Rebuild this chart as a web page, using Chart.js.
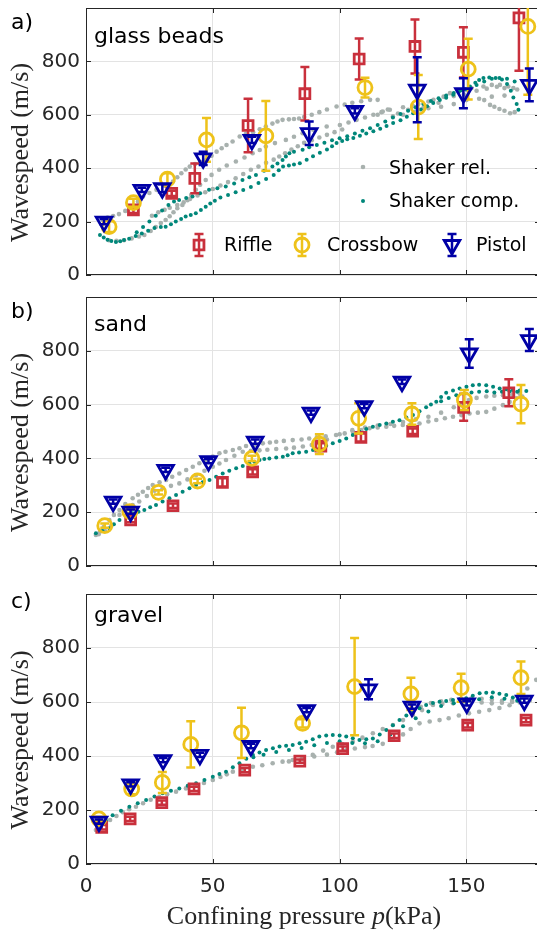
<!DOCTYPE html>
<html>
<head>
<meta charset="utf-8">
<script src="https://cdn.jsdelivr.net/npm/chart.js@4.4.1/dist/chart.umd.min.js"></script>
<style>
  html, body { margin: 0; padding: 0; background: #fff; overflow: hidden; width: 537px; height: 932px; }
  canvas { position: absolute; left: 0; }
</style>
</head>
<body>
<canvas id="panelA" width="541" height="285" style="top:0px"></canvas>
<canvas id="panelB" width="541" height="290" style="top:285px"></canvas>
<canvas id="panelC" width="541" height="352" style="top:580px"></canvas>
<script>
// axis ticks shared by all three panels
const xTicks = [0, 50, 100, 150];
const yTicks = [0, 200, 400, 600, 800];

// ---- a) glass beads ----
const riffleA_x = [18.7, 33.8, 42.9, 63.9, 86.3, 107.7, 129.7, 148.8, 170.7];
const riffleA_y = [244, 306, 362, 560, 679, 809, 856, 834, 963];
const riffleA_err = [12, 10, 56, 100, 100, 77, 101, 94, 198];
const crossA_x = [9.1, 18.7, 32.1, 47.5, 70.9, 110, 131, 150.7, 174.2];
const crossA_y = [181, 271, 359, 506, 521, 702, 629, 771, 931];
const crossA_err = [20, 15, 22, 82, 131, 37, 120, 114, 256];
const pistolA_x = [7.1, 22, 30.1, 46.2, 65.4, 88, 106, 130.6, 148.8, 174.8];
const pistolA_y = [200, 319, 325, 437, 506, 531, 615, 694, 681, 712];
const pistolA_err = [10, 8, 15, 25, 12, 44, 10, 122, 56, 61];
const shakerRelA = [
  [6.6,206],[8.5,215],[10.7,221],[13,228],[15.5,240],[18,256],[20.5,275],[22.5,294],[25,307],[27.8,319],
  [31,334],[34.3,350],[36,366],[37.6,381],[39.3,395],[40.9,406],[43,416],[45,424],[47.5,431],[49.5,447],
  [51.5,462],[53.5,475],[55.4,487],[57.8,500],[60.6,519],[63,528],[65.9,535],[68.5,546],[70.9,556],[73.5,567],
  [75.5,575],[77.5,581],[80,583],[82,584],[84,586],[86,592],[89,600],[92,610],[95,620],[98.8,631],
  [102,638],[105,645],[108.5,651],[112,656],[115,656],
  [9,130],[12,128],[15,130],[18,137],[20.9,144],[23,150],[25.5,165],[27.5,180],[29.5,195],[31.4,206],
  [33,220],[34.5,235],[36,250],[38,262],[40,280],[41.5,300],[43.3,319],[45,338],[47.2,356],[49.5,375],
  [52.5,394],[55.5,410],[59.1,425],[62.5,440],[65.7,456],[68.5,468],[70.9,481],[74.5,494],[78.8,506],[82,518],
  [85.4,531],[89.6,544],[94.9,556],[100.1,562],[103.5,571],[106.7,581],[110,590],[113.3,600],[116.5,610],[119.8,619],
  [26,222],[28.5,235],[31,244],[33,252],[36,262],[38.5,272],[41,285],[44,298],[47,310],[50,322],
  [53,335],[56,348],[59,362],[62,378],[65,394],[68,406],[71,420],[74,432],[76.2,444],[78.5,456],
  [81,470],[83.5,482],[86,495],[89,505],[92,515],[95,525],[98,535],[101,545],
  [115,600],[117,612],[119,620],[121,594],[123,605],[125,628],[127,619],[129,632],[131,640],[133,625],
  [135,650],[137,656],[139,645],[141,668],[143.5,681],[145,670],[147,688],[149,676],[150,694],[152,700],
  [154,690],[156.7,706],[158,698],[160,712],[162,705],[163.2,712],[165,700],[166.5,706],[168.5,700],[170,695],
  [157,655],[159.3,637],[161,630],[163,622],[165,615],[167.2,606],[169,610],
  [125,600],[130,612],[135,625],[140,630],[145,640],[150,655],[155,660],[160,668],[165,672]
];
const shakerCompA = [
  [5.5,150],[7,140],[8.5,132],[10,127],[11.8,124],[13.5,126],[15,131],[17,136],[19.6,146],[22,155],
  [24.5,166],[27,176],[29.5,180],[31.4,181],[33.5,190],[35.4,200],[37.5,210],[39.3,219],[41.3,225],[43.3,231],
  [45.3,243],[47.2,256],[49,268],[50.8,278],[53,290],[56,300],[59,310],[62,318],[65,330],[68,345],
  [71,360],[74,375],[76,392],[77.7,406],[80,410],[82,414],[84.3,419],[87,432],[89.5,445],[92.2,458],
  [95,470],[97,482],[98.8,494],[101,502],[103,508],[105.4,513],[108,522],[110.5,530],[113.3,538],[116,548],
  [118.5,558],[121.1,569],[124,580],[126.5,593],[129,606],[132,620],[134.5,632],[136.9,644],[139.5,655],[142,664],
  [144.8,675],[147,686],[149.5,696],[151.4,706],[153.5,720],[155,730],[156.7,738],[159,740],[161.5,738],[164,732],
  [166,715],[167.5,690],[168.5,665],[169.8,640],[170.5,619],
  [20,160],[22.5,180],[25,200],[27.5,222],[30,242],[32.5,262],[34.7,275],[36.7,281],[39.5,288],[42,294],
  [45,306],[48.5,319],[51.8,325],[55.1,331],[58.4,343],[61.7,356],[64.4,366],[67,375],[70.2,390],[73.5,406],
  [75.5,418],[77.5,431],[78.8,444],[80.2,456],[82,462],[85.4,469],[88,478],[91,487],[94,495],[97,505],
  [100,512],[103,520],[106,530],[109,540],[112,550],[115,562],[118,575],[121,590],[124,603],[127,615],
  [130,628],[133,640],[136,652],[139,662],[142,672],[145,682],[148,692],[151,700],[154,712],[157,725],
  [160,735],[163,738],[166,735],[169,725]
];

// ---- b) sand ----
const riffleB_x = [17.6, 34.3, 53.8, 65.7, 92.6, 108.4, 128.8, 148.9, 166.7];
const riffleB_y = [171, 224, 311, 350, 446, 478, 501, 590, 644];
const riffleB_err = [8, 8, 15, 10, 10, 15, 10, 50, 50];
const crossB_x = [7.4, 17.3, 28.6, 44, 65.4, 92, 107.5, 128.5, 149.2, 171.5];
const crossB_y = [150, 202, 274, 316, 400, 453, 549, 565, 617, 602];
const crossB_err = [8, 8, 8, 8, 10, 37, 56, 40, 37, 71];
const pistolB_x = [10.7, 17.6, 31.4, 48.3, 66.7, 88.7, 109.7, 124.6, 151.1, 174.8];
const pistolB_y = [239, 202, 357, 390, 462, 570, 594, 685, 790, 840];
const pistolB_err = [8, 8, 8, 8, 8, 8, 8, 8, 53, 41];
const shakerRelB = [
  [3.9,115],[5.5,128],[7,145],[9.2,171],[11,190],[13.2,208],[15.5,230],[18.4,252],[20.5,265],[22.4,276],
  [24.5,290],[26.3,301],[29,311],[31.6,320],[34,332],[36.8,344],[39.5,357],[42.1,369],[44.7,382],[47.3,394],
  [50,407],[52.6,419],[55,425],[57.9,431],[60.5,438],[63.1,446],[66.5,451],[69.7,456],[72.5,459],[75,462],
  [78,465],[81.5,468],[85,470],[88,474],[91,478],[94.5,482],
  [5,118],[7.5,130],[10,150],[13.2,190],[15.8,208],[18.4,227],[21,240],[24,260],[27,280],[30.2,289],
  [33.5,298],[36.8,307],[40,322],[43.4,338],[46.7,354],[50,369],[52.6,381],[55.2,394],[58.5,410],[61.8,425],
  [65,428],[68.4,430],[71.5,432],[75,435],[78.9,437],[82,440],[85.5,444],[89,450],[92,458],[95,470],
  [98.6,487],[102,493],[105.2,499],[108.5,505],[111.8,512],[115,515],[118.4,518],[121.5,521],[124.9,524],[128,527],
  [131.5,530],[135,537],[138.1,543],[141.5,549],[144.7,555],[148,561],[151.2,567],[154.5,570],[157.8,573],[161,585],
  [164.4,598],[167,610],[169.6,623],[172,630],
  [100,490],[105,505],[110,515],[115,522],[120,528],[125,535],[130,545],[135,555],[140,570],[145,590],
  [148,605],[151,617],[154,625],[157.8,630],[161,633],[164.4,635],[168,638],[171,640]
];
const shakerCompB = [
  [3.9,122],[6.5,130],[9.2,140],[11,155],[13.2,171],[15.8,185],[18.4,196],[20.7,202],[23,208],[25.3,218],
  [27.6,227],[30.2,240],[32.9,252],[35.5,264],[38.1,276],[40.8,289],[43.4,301],[46,311],[48.7,320],[51.3,332],
  [53.9,344],[56.5,354],[59.2,363],[61.8,372],[64.4,382],[66.4,388],[68.4,394],[70.3,398],[72.3,400],[75,403],
  [77.6,406],[79.5,412],[81.5,419],[84,422],[86.8,425],[89.5,431],[92.1,437],[94.7,447],[97.3,456],[100,465],
  [102.6,474],[105.2,487],[107.8,499],[110.5,509],[113.1,518],[115.8,524],[118.4,530],[121,536],[123.6,542],[126.3,552],
  [128.9,561],[131.5,575],[134.1,590],[136,600],[138.1,611],[140,628],[142,644],[144.7,652],[147.3,660],[150,666],
  [152.5,672],[155,674],[157.8,672],[160.5,666],[163.1,660],[165.7,657],[168.3,654],[171,652],[173.6,651],
  [140,612],[143,625],[146,635],[149,640],[152,645],[155,648],[158,650],[161,645],[164,648],[167,650],[170,648]
];

// ---- c) gravel ----
const riffleC_x = [6.2, 17.4, 29.9, 42.6, 62.6, 84.3, 101.2, 121.5, 150.5, 173.5];
const riffleC_y = [136, 167, 227, 278, 348, 381, 427, 475, 514, 533];
const riffleC_err = [8, 8, 8, 8, 8, 6, 8, 8, 8, 8];
const crossC_x = [5.1, 18, 30.1, 41.3, 61.3, 85.4, 105.9, 128.1, 147.9, 171.5];
const crossC_y = [167, 278, 302, 443, 486, 521, 657, 630, 653, 690];
const crossC_err = [8, 20, 39, 86, 93, 15, 180, 60, 52, 60];
const pistolC_x = [5.1, 17.6, 30.4, 44.9, 65, 87, 111.4, 128.5, 150.1, 172.8];
const pistolC_y = [157, 295, 385, 404, 437, 570, 647, 583, 595, 605];
const pistolC_err = [8, 8, 8, 8, 8, 8, 37, 8, 8, 8];
const shakerRelC = [
  [3.9,126],[5.5,135],[7.5,150],[9.5,163],[12,178],[14.5,192],[17,203],[19.7,212],[22.5,225],[25.5,238],
  [28.9,249],[32,258],[35.5,268],[39.4,280],[43,290],[46.5,300],[50,311],[53,322],[55.5,332],[57.9,342],
  [61.5,351],[65.8,360],[69.5,366],[73.6,373],[77.5,379],[81.5,385],[85.5,394],[89.4,404],[93.5,420],[97.3,434],
  [101,444],[105.2,453],[109,468],[113.1,484],[117,500],[121,515],[125,533],[128.9,552],[132.5,570],[136.8,589],
  [140.5,593],[144.7,595],[148.5,598],[152,600],[156,598],[160,595],[164,597],[168,605],[171,625],[174,650],[177.5,682],
  [80,380],[85,388],[90,398],[95,405],[99,414],[102.6,422],[106,428],[110,433],[113,437],[117,445],
  [121,460],[125,480],[128,500],[131.5,521],[135.5,528],[139.4,533],[143,540],[147,550],[151,558],[155,564],
  [159,570],[163,578],[167,588],[171,598],[175,606],
  [128,570],[132,582],[136,596],[140,603],[144,608],[148,612],[152,614],[156,612],[160,608],[164,604],[168,600]
];
const shakerCompC = [
  [5.3,144],[7.8,162],[10.5,181],[13.8,197],[17.1,212],[20.4,225],[23.7,237],[27,250],[30.2,262],[33.5,271],
  [36.8,280],[40.1,290],[43.4,299],[46.7,311],[50,323],[52.6,333],[55.2,342],[57.9,358],[60.5,373],[63.2,390],
  [65.8,404],[68.4,413],[71,422],[73.7,429],[76.3,435],[78.9,438],[81.5,441],[84.2,447],[86.8,453],[89.4,462],
  [92,472],[94.7,476],[97.3,478],[100,476],[102.6,472],[105.2,466],[107.8,459],[110.5,462],[113.1,465],[115.8,480],
  [118.4,496],[121,514],[123.6,533],[126.3,550],[128.9,564],[131.5,577],[134.1,589],[136.8,596],[139.4,601],[142,604],
  [144.7,607],[147.3,610],[149.9,614],[152.5,623],[155.2,632],[157.8,634],[160.4,635],[163,631],[165.7,626],[168.3,617],[170.9,607],
  [66,395],[70,405],[75,415],[80,422],[85,430],[90,440],[95,448],[100,455],[105,448],[110,447],
  [115,455],[120,480],[125,510],[130,540],[135,565],[140,585],[145,595],[150,600],[155,610],[160,618],[165,612],[170,605]
];

const axisColour = '#262626';
const gridColour = '#e3e3e3';
const sansFont = "'DejaVu Sans', sans-serif";
const serifFont = "'Liberation Serif', serif";
const markerWidth = 2.8;
const colours = {
  riffle: '#c9303c',
  crossbow: '#eec21a',
  pistol: '#0000a6',
  rel: '#a8b1ae',
  comp: '#00877a',
};

function pts(xs, ys) { return xs.map((x, i) => ({x: x, y: ys[i]})); }
function pairs(arr) { return arr.map(p => ({x: p[0], y: p[1]})); }

// hollow marker glyphs, same sizes as the plotted points
function drawMarker(ctx, kind, cx, cy) {
  ctx.save();
  ctx.lineWidth = markerWidth;
  ctx.strokeStyle = colours[kind];
  ctx.beginPath();
  if (kind === 'riffle') {
    const s = 7 * Math.SQRT1_2;
    ctx.rect(cx - s, cy - s, 2 * s, 2 * s);
  } else if (kind === 'crossbow') {
    ctx.arc(cx, cy, 7, 0, Math.PI * 2);
  } else {
    const r = 9;
    ctx.moveTo(cx, cy + r);
    ctx.lineTo(cx - r * Math.sin(Math.PI / 3), cy - r / 2);
    ctx.lineTo(cx + r * Math.sin(Math.PI / 3), cy - r / 2);
    ctx.closePath();
  }
  ctx.stroke();
  ctx.restore();
}

function drawBar(ctx, colour, px, lo, hi) {
  ctx.save();
  ctx.strokeStyle = colour;
  ctx.lineWidth = 2.5;
  ctx.beginPath();
  ctx.moveTo(px, lo); ctx.lineTo(px, hi);
  ctx.moveTo(px - 4.5, lo); ctx.lineTo(px + 4.5, lo);
  ctx.moveTo(px - 4.5, hi); ctx.lineTo(px + 4.5, hi);
  ctx.stroke();
  ctx.restore();
}

// keep tick labels from pushing the plot area in
function noPadding(s) {
  s.paddingTop = 0; s.paddingBottom = 0; s.paddingLeft = 0; s.paddingRight = 0;
}

// box round the axes plus the inward tick marks
const framePlugin = {
  id: 'frame',
  beforeDatasetsDraw(chart) {
    const {ctx, chartArea: a, scales: {x, y}} = chart;
    ctx.save();
    ctx.strokeStyle = axisColour;
    ctx.lineWidth = 1;
    ctx.strokeRect(a.left + 0.5, a.top + 0.5, a.right - a.left - 1, a.bottom - a.top - 1);
    ctx.beginPath();
    for (const v of xTicks) {
      const px = Math.round(x.getPixelForValue(v)) + 0.5;
      ctx.moveTo(px, a.bottom); ctx.lineTo(px, a.bottom - 5);
      ctx.moveTo(px, a.top); ctx.lineTo(px, a.top + 5);
    }
    for (const v of yTicks) {
      const py = Math.round(y.getPixelForValue(v)) + 0.5;
      ctx.moveTo(a.left, py); ctx.lineTo(a.left + 5, py);
      ctx.moveTo(a.right, py); ctx.lineTo(a.right - 5, py);
    }
    ctx.stroke();
    ctx.restore();
  }
};

const errorBarPlugin = {
  id: 'errorBars',
  afterDatasetDraw(chart, args) {
    const ds = chart.data.datasets[args.index];
    if (!ds.err) return;
    const {ctx, chartArea: a, scales: {x, y}} = chart;
    ctx.save();
    ctx.beginPath();
    ctx.rect(a.left, a.top, a.right - a.left, a.bottom - a.top);
    ctx.clip();
    ds.data.forEach((p, i) => {
      drawBar(ctx, ds.pointBorderColor, x.getPixelForValue(p.x),
        y.getPixelForValue(p.y - ds.err[i]), y.getPixelForValue(p.y + ds.err[i]));
    });
    ctx.restore();
  }
};

// panel letter, material name, axis titles and the legend
const textPlugin = {
  id: 'panelText',
  afterDraw(chart, args, opts) {
    const {ctx, chartArea: a} = chart;
    ctx.save();
    ctx.fillStyle = '#000';
    ctx.textBaseline = 'middle';
    ctx.textAlign = 'left';
    ctx.font = `22px ${sansFont}`;
    ctx.fillText(opts.letter, 11, opts.letterY);
    ctx.fillText(opts.name, 94, opts.nameY);

    // y title
    ctx.save();
    ctx.fillStyle = axisColour;
    ctx.font = `26px ${serifFont}`;
    ctx.translate(21, (a.top + a.bottom) / 2 + 11);
    ctx.rotate(-Math.PI / 2);
    ctx.textAlign = 'center';
    ctx.fillText('Wavespeed (m/s)', 0, 0);
    ctx.restore();

    if (opts.xTitle) {
      ctx.fillStyle = axisColour;
      const parts = [
        ['Confining pressure ', `26px ${serifFont}`],
        ['p', `italic 26px ${serifFont}`],
        ['(kPa)', `26px ${serifFont}`],
      ];
      let total = 0;
      for (const [t, f] of parts) { ctx.font = f; total += ctx.measureText(t).width; }
      let xPos = 304 - total / 2;
      for (const [t, f] of parts) {
        ctx.font = f;
        ctx.fillText(t, xPos, opts.xTitleY);
        xPos += ctx.measureText(t).width;
      }
    }

    if (opts.legend) {
      ctx.font = `19px ${sansFont}`;
      ctx.beginPath(); ctx.fillStyle = colours.rel; ctx.arc(363, 167, 2.3, 0, Math.PI * 2); ctx.fill();
      ctx.beginPath(); ctx.fillStyle = colours.comp; ctx.arc(363, 201, 2, 0, Math.PI * 2); ctx.fill();
      ctx.fillStyle = '#000';
      ctx.fillText('Shaker rel.', 389, 169);
      ctx.fillText('Shaker comp.', 389, 202);
      const entries = [['riffle', 'Riffle', 199, 224], ['crossbow', 'Crossbow', 302, 327], ['pistol', 'Pistol', 452, 476]];
      for (const [kind, label, mx, tx] of entries) {
        drawBar(ctx, colours[kind], mx, 234, 256);
        drawMarker(ctx, kind, mx, 245);
        ctx.fillStyle = '#000';
        ctx.fillText(label, tx, 246);
      }
    }
    ctx.restore();
  }
};

function makePanel(id, d, text, layout) {
  const datasets = [
    {label: 'Pistol', data: pts(d.pistolX, d.pistolY), err: d.pistolErr, pointStyle: 'triangle', pointRotation: 180,
      pointRadius: 9, pointBorderWidth: markerWidth, pointBorderColor: colours.pistol, pointBackgroundColor: 'rgba(0,0,0,0)'},
    {label: 'Crossbow', data: pts(d.crossX, d.crossY), err: d.crossErr, pointStyle: 'circle',
      pointRadius: 7, pointBorderWidth: markerWidth, pointBorderColor: colours.crossbow, pointBackgroundColor: 'rgba(0,0,0,0)'},
    {label: 'Riffle', data: pts(d.riffleX, d.riffleY), err: d.riffleErr, pointStyle: 'rect',
      pointRadius: 7, pointBorderWidth: markerWidth, pointBorderColor: colours.riffle, pointBackgroundColor: 'rgba(0,0,0,0)'},
    {label: 'Shaker comp.', data: pairs(d.comp), pointRadius: 2, pointBorderWidth: 0,
      pointBackgroundColor: colours.comp, pointBorderColor: colours.comp},
    {label: 'Shaker rel.', data: pairs(d.rel), pointRadius: 2.3, pointBorderWidth: 0,
      pointBackgroundColor: colours.rel, pointBorderColor: colours.rel},
  ];
  return new Chart(document.getElementById(id), {
    type: 'scatter',
    data: {datasets: datasets},
    options: {
      responsive: false,
      animation: false,
      devicePixelRatio: 1,
      events: [],
      layout: {autoPadding: false, padding: {top: layout.top, right: 1, left: 0, bottom: 0}},
      plugins: {legend: {display: false}, tooltip: {enabled: false}, panelText: text},
      scales: {
        x: {
          type: 'linear', min: 0, max: 179,
          afterBuildTicks: s => { s.ticks = xTicks.map(v => ({value: v})); },
          afterFit: s => { s.height = layout.xHeight; noPadding(s); },
          border: {display: false},
          grid: {color: gridColour, drawTicks: false},
          ticks: {display: layout.showX, padding: 11, color: axisColour, font: {family: sansFont, size: 20}},
        },
        y: {
          type: 'linear', min: 0, max: 1000,
          afterBuildTicks: s => { s.ticks = yTicks.map(v => ({value: v})); },
          afterFit: s => { s.width = 86; noPadding(s); },
          border: {display: false},
          grid: {color: gridColour, drawTicks: false},
          ticks: {padding: 6, color: axisColour, font: {family: sansFont, size: 20}},
        }
      }
    },
    plugins: [framePlugin, errorBarPlugin, textPlugin]
  });
}

makePanel('panelA', {
  riffleX: riffleA_x, riffleY: riffleA_y, riffleErr: riffleA_err,
  crossX: crossA_x, crossY: crossA_y, crossErr: crossA_err,
  pistolX: pistolA_x, pistolY: pistolA_y, pistolErr: pistolA_err,
  rel: shakerRelA, comp: shakerCompA,
}, {letter: 'a)', letterY: 23, name: 'glass beads', nameY: 37, legend: true}, {top: 8, xHeight: 10, showX: false});

makePanel('panelB', {
  riffleX: riffleB_x, riffleY: riffleB_y, riffleErr: riffleB_err,
  crossX: crossB_x, crossY: crossB_y, crossErr: crossB_err,
  pistolX: pistolB_x, pistolY: pistolB_y, pistolErr: pistolB_err,
  rel: shakerRelB, comp: shakerCompB,
}, {letter: 'b)', letterY: 27, name: 'sand', nameY: 40}, {top: 12, xHeight: 9, showX: false});

makePanel('panelC', {
  riffleX: riffleC_x, riffleY: riffleC_y, riffleErr: riffleC_err,
  crossX: crossC_x, crossY: crossC_y, crossErr: crossC_err,
  pistolX: pistolC_x, pistolY: pistolC_y, pistolErr: pistolC_err,
  rel: shakerRelC, comp: shakerCompC,
}, {letter: 'c)', letterY: 22, name: 'gravel', nameY: 36, xTitle: true, xTitleY: 337}, {top: 14, xHeight: 68, showX: true});
</script>
</body>
</html>
